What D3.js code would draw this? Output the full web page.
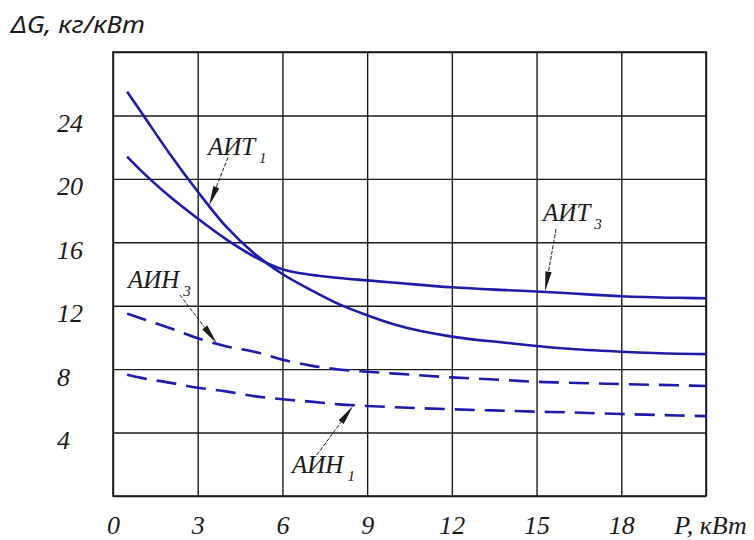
<!DOCTYPE html>
<html><head><meta charset="utf-8">
<script src="https://cdn.jsdelivr.net/npm/d3@7"></script>
<style>
html,body{margin:0;padding:0;background:#fff;}
svg{display:block;}
</style></head>
<body>
<svg id="chart" width="754" height="540"></svg>
<script>
// ---- data ----
const xs      = [0.5, 1, 2, 3, 4, 5, 6, 7, 8, 9, 10, 12, 14, 15, 16, 18, 20, 21];
const ait1    = [25.5, 24.2, 21.6, 19.2, 17.0, 15.3, 14.0, 13.0, 12.1, 11.4, 10.8, 10.05, 9.65, 9.46, 9.3, 9.1, 8.97, 8.95];
const ait3    = [21.4, 20.5, 18.9, 17.5, 16.2, 15.1, 14.3, 13.95, 13.75, 13.6, 13.45, 13.16, 12.98, 12.9, 12.8, 12.6, 12.5, 12.47];
const aih3    = [11.5, 11.2, 10.6, 9.95, 9.45, 9.1, 8.6, 8.22, 7.98, 7.84, 7.72, 7.48, 7.3, 7.2, 7.15, 7.06, 6.98, 6.94];
const aih1    = [7.65, 7.45, 7.15, 6.83, 6.6, 6.3, 6.1, 5.95, 5.78, 5.68, 5.6, 5.47, 5.37, 5.32, 5.28, 5.17, 5.08, 5.04];
const xGrid   = [0, 3, 6, 9, 12, 15, 18, 21];
const yGrid   = [0, 4, 8, 12, 16, 20, 24, 28];
const xLabels = ["0", "3", "6", "9", "12", "15", "18", "P, кВт"];
const yTicks  = [4, 8, 12, 16, 20, 24];
const yTitle  = "ΔG, кг/кВт";
// annotations: name, subscript, label anchor (data units), arrow start, arrow tip
const notes = [
  {name: "АИТ", sub: "1", lx: 3.36, ly: 21.49, ax: 4.07, ay: 21.35, tx: 3.40, ty: 18.3},
  {name: "АИТ", sub: "3", lx: 15.23, ly: 17.34, ax: 15.69, ay: 16.84, tx: 15.30, ty: 12.9},
  {name: "АИН", sub: "3", lx: 0.53, ly: 13.12, ax: 2.37, ay: 12.68, tx: 3.68, ty: 9.62},
  {name: "АИН", sub: "1", lx: 6.34, ly: 1.45, ax: 7.22, ay: 2.59, tx: 8.5, ty: 5.68}
];
const series = [
  {vals: ait1, dash: null},
  {vals: ait3, dash: null},
  {vals: aih3, dash: "20,10"},
  {vals: aih1, dash: "20,10"}
];

// ---- layout ----
const svg = d3.select("#chart");
const L = 113, R = 706, T = 52, B = 496;
const x = d3.scaleLinear().domain([0, 21]).range([L, R]);
const y = d3.scaleLinear().domain([0, 28]).range([B, T]);
const ink = "#1a1a1a";
const blue = "#1c1ca8";
const SERIF = '"Liberation Serif"';
function serifText(sel, size) {
  sel.style("font-family", SERIF).style("font-style", "italic")
     .style("font-size", size + "px").attr("fill", ink);
}

// grid
const gx = svg.append("g").attr("transform", `translate(0,${B})`)
  .call(d3.axisBottom(x).tickValues(xGrid).tickSize(-(B - T)).tickFormat(""));
const gy = svg.append("g").attr("transform", `translate(${L},0)`)
  .call(d3.axisLeft(y).tickValues(yGrid).tickSize(-(R - L)).tickFormat(""));
[gx, gy].forEach(g => {
  g.select(".domain").remove();
  g.selectAll("line").attr("stroke", ink).attr("stroke-width", 1.4);
});
svg.append("rect").attr("x", L).attr("y", T).attr("width", R - L).attr("height", B - T)
  .attr("fill", "none").attr("stroke", ink).attr("stroke-width", 1.6);

// curves
const line = d3.line().x((d, i) => x(xs[i])).y(d => y(d)).curve(d3.curveMonotoneX);
series.forEach(s => {
  svg.append("path").attr("d", line(s.vals)).attr("fill", "none")
    .attr("stroke", blue).attr("stroke-width", 2.6)
    .attr("stroke-dasharray", s.dash);
});

// x labels
const xl = svg.append("g").attr("transform", `translate(0,${B})`)
  .call(d3.axisBottom(x).tickValues(xGrid).tickSize(0).tickPadding(0)
    .tickFormat((d, i) => xLabels[i]));
xl.select(".domain").remove();
xl.attr("font-family", null).attr("font-size", null);
xl.selectAll("text").attr("y", 38).attr("dy", 0).call(serifText, 26);
xl.selectAll(".tick").filter(d => d === 21).select("text").attr("x", 4);

// y labels
const yl = svg.append("g").attr("transform", `translate(57,0)`)
  .call(d3.axisLeft(y).tickValues(yTicks).tickSize(0).tickPadding(0));
yl.select(".domain").remove();
yl.attr("font-family", null).attr("font-size", null);
yl.selectAll("text").attr("x", 0).attr("dy", 16).attr("text-anchor", "start").call(serifText, 26);

// y title
svg.append("text").attr("x", 11).attr("y", 33).text(yTitle)
  .style("font-family", '"Noto Sans"').style("font-style", "italic")
  .style("font-size", "23px").attr("fill", ink)
  .attr("textLength", 134).attr("lengthAdjust", "spacingAndGlyphs");

// annotations
notes.forEach(n => {
  const x0 = x(n.ax), y0 = y(n.ay), x1 = x(n.tx), y1 = y(n.ty);
  const dx = x1 - x0, dy = y1 - y0, len = Math.hypot(dx, dy);
  const ux = dx / len, uy = dy / len;
  const hl = 20, hw = 3.2;
  const bx = x1 - ux * hl, by = y1 - uy * hl;
  svg.append("line").attr("x1", x0).attr("y1", y0).attr("x2", bx).attr("y2", by)
    .attr("stroke", ink).attr("stroke-width", 1).attr("stroke-dasharray", "4,1.5");
  svg.append("path")
    .attr("d", `M${x1},${y1}L${bx - uy * hw},${by + ux * hw}L${bx + uy * hw},${by - ux * hw}Z`)
    .attr("fill", ink);
  const t = svg.append("text").attr("x", x(n.lx)).attr("y", y(n.ly)).call(serifText, 25);
  t.append("tspan").text(n.name);
  t.append("tspan").attr("dx", 4).attr("dy", 8).style("font-size", "15px").text(n.sub);
});
</script>
</body></html>
